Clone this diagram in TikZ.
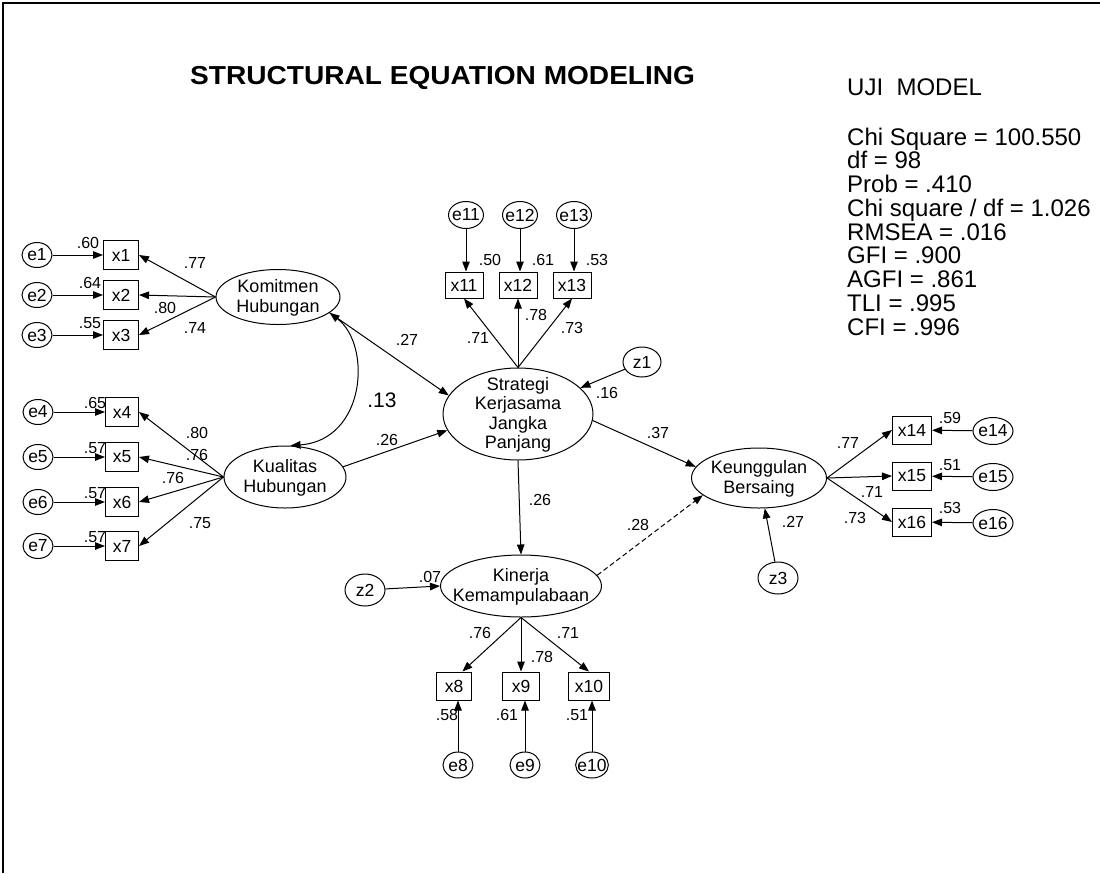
\documentclass[tikz,border=0pt]{standalone}
\usepackage{fontspec}
\setmainfont{Liberation Sans}
\usetikzlibrary{shapes.geometric,arrows.meta}
\newcommand\lattext[1]{\raisebox{-0.32em}[0pt][0pt]{\makebox[0pt]{\begin{tabular}{@{}c@{}}#1\end{tabular}}}}
\begin{document}
\begin{tikzpicture}[x=1pt,y=-1pt,
 every node/.style={inner sep=0pt},
 lat/.style={draw,ellipse,line width=1pt,font=\fontsize{18}{19.5}\selectfont},
 obs/.style={draw,rectangle,line width=1pt,font=\fontsize{17.5}{19}\selectfont},
 err/.style={draw,ellipse,line width=1pt,inner xsep=-3pt,inner ysep=-2pt,font=\fontsize{17.5}{19}\selectfont},
 lab/.style={font=\fontsize{16}{18}\selectfont},
 stat/.style={anchor=base west,font=\fontsize{24}{24}\selectfont},
 arr/.style={line width=1pt,-{Triangle[length=10pt,width=7.5pt]}},
]
\useasboundingbox (0,0) rectangle (1100,873);
% frame
\draw[line width=1.8pt] (3,873) -- (3,3) -- (1100,3);
% title and statistics
\node[anchor=base west,font=\bfseries\fontsize{26}{28}\selectfont] (title) at (190,84) {\scalebox{1.08}[1]{STRUCTURAL EQUATION MODELING}};
\node[stat] (uji) at (847,95) {UJI\ \ MODEL};
\node[stat] (s1) at (847,145) {Chi Square = 100.550};
\node[stat] (s2) at (847,168.75) {df = 98};
\node[stat] (s3) at (847,192.5) {Prob = .410};
\node[stat] (s4) at (847,216.25) {Chi square / df = 1.026};
\node[stat] (s5) at (847,240) {RMSEA = .016};
\node[stat] (s6) at (847,263.75) {GFI = .900};
\node[stat] (s7) at (847,287.5) {AGFI = .861};
\node[stat] (s8) at (847,311.25) {TLI = .995};
\node[stat] (s9) at (847,335) {CFI = .996};

% latent variables
\node[lat,minimum width=124pt,minimum height=55pt] (kom) at (278,297) {\lattext{Komitmen\\Hubungan}};
\node[lat,minimum width=122pt,minimum height=62pt] (kual) at (285,477) {\lattext{Kualitas\\Hubungan}};
\node[lat,minimum width=150pt,minimum height=92pt] (strat) at (518,414) {\lattext{Strategi\\Kerjasama\\Jangka\\Panjang}};
\node[lat,minimum width=161pt,minimum height=62pt] (kin) at (521,586) {\lattext{Kinerja\\Kemampulabaan}};
\node[lat,minimum width=135pt,minimum height=60pt] (keu) at (759,478) {\lattext{Keunggulan\\Bersaing}};

% disturbances
\node[err,minimum width=38pt,minimum height=30pt] (z1) at (642,362) {z1};
\node[err,minimum width=40pt,minimum height=32pt] (z2) at (365,590) {z2};
\node[err,minimum width=40pt,minimum height=32pt] (z3) at (778,578) {z3};

% indicators left
\foreach \i/\y in {1/255,2/295,3/335}{
  \node[obs,minimum width=35pt,minimum height=29pt] (x\i) at (121,\y) {x\i};
  \node[err,minimum width=30pt,minimum height=25pt] (e\i) at (37,\y) {e\i};
  \draw[arr] (e\i) -- (x\i);
  \draw[arr] (kom.west) -- (x\i.east);
}
\foreach \i/\y in {4/412,5/457,6/502,7/546}{
  \node[obs,minimum width=33pt,minimum height=29pt] (x\i) at (122,\y) {x\i};
  \node[err,minimum width=30pt,minimum height=25pt] (e\i) at (38,\y) {e\i};
  \draw[arr] (e\i) -- (x\i);
  \draw[arr] (kual.west) -- (x\i.east);
}
% indicators top
\foreach \i/\x in {11/464,12/518,13/572}{
  \node[obs,minimum width=38pt,minimum height=26pt] (x\i) at (\x,285) {x\i};
  \node[err,minimum width=35pt,minimum height=27pt] (e\i) at (\x+2,215) {e\i};
  \draw[arr] (e\i) -- (e\i |- x\i.north);
  \draw[arr] (strat.north) -- (x\i.south);
}
% indicators bottom
\node[obs,minimum width=35pt,minimum height=28pt] (x8) at (454,686) {x8};
\node[obs,minimum width=37pt,minimum height=28pt] (x9) at (521,686) {x9};
\node[obs,minimum width=41pt,minimum height=28pt] (x10) at (589,686) {x10};
\node[err,minimum width=30pt,minimum height=26pt] (e8) at (458,765) {e8};
\node[err,minimum width=30pt,minimum height=26pt] (e9) at (525,765) {e9};
\node[err,minimum width=32pt,minimum height=26pt] (e10) at (592,765) {e10};
\foreach \i in {8,9,10}{
  \draw[arr] (e\i) -- (e\i |- x\i.south);
}
\draw[arr] (kin.south) -- (x8.60);
\draw[arr] (kin.south) -- (x9.north);
\draw[arr] (kin.south) -- (x10.north);
% indicators right
\foreach \i/\y in {14/430,15/476,16/522}{
  \node[obs,minimum width=39pt,minimum height=28pt] (x\i) at (912,\y) {x\i};
  \node[err,minimum width=40pt,minimum height=27pt] (e\i) at (993,\y+1) {e\i};
  \draw[arr] (e\i) -- (x\i);
  \draw[arr] (keu.east) -- (x\i.west);
}

% structural paths
\draw[arr] (kom.-17) -- (strat.165);
\draw[arr] (kual.10) -- (strat.193);
\draw[arr] (z1) -- (strat);
\draw[arr] (strat.-5) -- (keu.170);
\draw[arr] (strat.south) -- (kin.north);
\draw[arr] (z2) -- (kin.west);
\draw[arr,dash pattern=on 5pt off 3pt] (kin.8) -- (keu.197);
\draw[arr] (z3) -- (keu);
\draw[line width=1pt,{Triangle[length=10pt,width=7.5pt]}-{Triangle[length=10pt,width=7.5pt]}] (kom.-17) .. controls (372,345) and (366,440) .. (kual.80);

% labels
\node[lab] (l1) at (195,263) {.77};
\node[lab] (l2) at (165,308) {.80};
\node[lab] (l3) at (195,328) {.74};
\node[lab] (l4) at (88,243) {.60};
\node[lab] (l5) at (90,283) {.64};
\node[lab] (l6) at (90,323) {.55};
\node[lab] (l7) at (197,433) {.80};
\node[lab] (l8) at (197,455) {.76};
\node[lab] (l9) at (173,478) {.76};
\node[lab] (l10) at (200,523) {.75};
\node[lab] (l11) at (95,403) {.65};
\node[lab] (l12) at (95,448) {.57};
\node[lab] (l13) at (95,493) {.57};
\node[lab] (l14) at (95,537) {.57};
\node[font=\fontsize{21}{23}\selectfont] (l15) at (382,400) {.13};
\node[lab] (l16) at (407,340) {.27};
\node[lab] (l17) at (387,440) {.26};
\node[lab] (l18) at (478,338) {.71};
\node[lab] (l19) at (536,315) {.78};
\node[lab] (l20) at (572,328) {.73};
\node[lab] (l21) at (490,260) {.50};
\node[lab] (l22) at (543,260) {.61};
\node[lab] (l23) at (597,260) {.53};
\node[lab] (l24) at (607,393) {.16};
\node[lab] (l25) at (658,433) {.37};
\node[lab] (l26) at (540,500) {.26};
\node[lab] (l27) at (430,577) {.07};
\node[lab] (l28) at (638,525) {.28};
\node[lab] (l29) at (480,633) {.76};
\node[lab] (l30) at (542,657) {.78};
\node[lab] (l31) at (568,633) {.71};
\node[lab] (l32) at (447,715) {.58};
\node[lab] (l33) at (507,715) {.61};
\node[lab] (l34) at (577,715) {.51};
\node[lab] (l35) at (848,443) {.77};
\node[lab] (l36) at (872,492) {.71};
\node[lab] (l37) at (855,518) {.73};
\node[lab] (l38) at (950,418) {.59};
\node[lab] (l39) at (950,465) {.51};
\node[lab] (l40) at (950,508) {.53};
\node[lab] (l41) at (793,522) {.27};
\end{tikzpicture}
\end{document}
